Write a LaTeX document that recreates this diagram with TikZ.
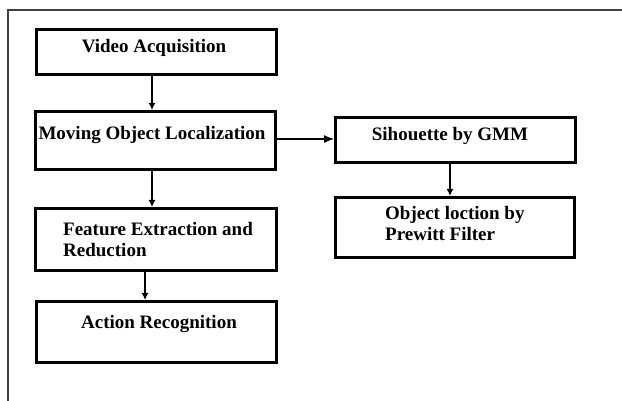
\documentclass[tikz,border=0pt]{standalone}
\usepackage{fontspec}
\setmainfont{Liberation Serif}
\usetikzlibrary{arrows.meta}
\begin{document}
\begin{tikzpicture}[x=1pt,y=-1pt,
  box/.style={draw, line width=2.8pt, rectangle, inner sep=0pt, anchor=north west},
  lbl/.style={font=\fontsize{19}{21}\selectfont\bfseries, inner sep=0pt, align=left},
  arr/.style={line width=1.3pt, -{Latex[length=7pt,width=7pt]}},
  bigarr/.style={line width=1.3pt, -{Latex[length=10pt,width=8pt]}}]
\useasboundingbox (0,0) rectangle (622,401);
\draw[line width=1.3pt, black!75] (8,401) -- (8,10) -- (622,10);
% boxes
\node[box, minimum width=240pt, minimum height=45pt] (va) at (35,28) {};
\node[box, minimum width=240pt, minimum height=58pt] (mol) at (34,110) {};
\node[box, minimum width=241pt, minimum height=62pt] (fe) at (34,207) {};
\node[box, minimum width=240pt, minimum height=61pt] (ar) at (35,300) {};
\node[box, minimum width=240pt, minimum height=45pt] (sg) at (334,116) {};
\node[box, minimum width=239pt, minimum height=60pt] (ol) at (334,196) {};
% labels
\node[lbl] (tva) at (154,48) {Video Acquisition};
\node[lbl] (tmol) at (152,135) {Moving Object Localization};
\node[lbl, anchor=west] (tfe) at (63,240) {Feature Extraction and\\Reduction};
\node[lbl] (tar) at (159,324) {Action Recognition};
\node[lbl] (tsg) at (450,136) {Sihouette by GMM};
\node[lbl, anchor=west] (tol) at (385,224) {Object loction by\\Prewitt Filter};
% arrows
\draw[arr] (va.south -| 152,0) -- (mol.north -| 152,0);
\draw[arr] (mol.south -| 152,0) -- (fe.north -| 152,0);
\draw[arr] (fe.south -| 145,0) -- (ar.north -| 145,0);
\draw[bigarr] (mol.east |- 0,139) -- (sg.west |- 0,139);
\draw[arr] (sg.south -| 450,0) -- (ol.north -| 450,0);
\end{tikzpicture}
\end{document}
